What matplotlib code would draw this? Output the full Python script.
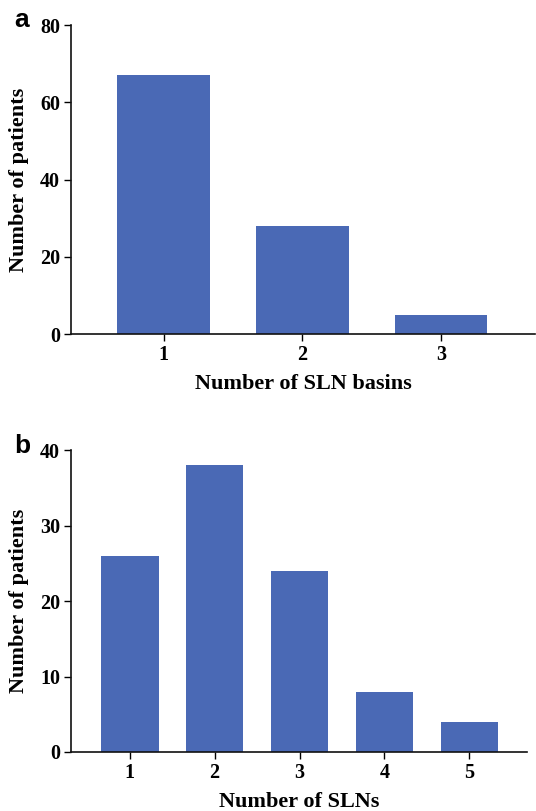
import matplotlib.pyplot as plt

# panel a: number of SLN basins
basins = [1, 2, 3]
basin_patients = [67, 28, 5]

# panel b: number of SLNs
slns = [1, 2, 3, 4, 5]
sln_patients = [26, 38, 24, 8, 4]

bar_color = "#4a69b5"

plt.rcParams["font.family"] = ["Liberation Serif", "DejaVu Serif"]
plt.rcParams["font.weight"] = "bold"

fig = plt.figure(figsize=(5.36, 8.11), dpi=100)
ax_a = fig.add_axes([0.1325, 0.588, 0.866, 0.381])
ax_b = fig.add_axes([0.1325, 0.0728, 0.851, 0.372])


def style(ax, xlabel):
    for side in ("top", "right"):
        ax.spines[side].set_visible(False)
    for side in ("left", "bottom"):
        ax.spines[side].set_linewidth(1.2)
        ax.spines[side].set_color("#111111")
    ax.tick_params(axis="both", direction="out", length=5, width=1,
                   labelsize=14.5, pad=3)
    for lab in ax.get_xticklabels() + ax.get_yticklabels():
        lab.set_fontweight("bold")
    ax.set_ylabel("Number of patients", fontsize=16, fontweight="bold",
                  va="center")
    ax.set_xlabel(xlabel, fontsize=16, fontweight="bold", va="center")
    w_px = ax.get_position().width * 536
    h_px = ax.get_position().height * 811
    ax.yaxis.set_label_coords(-52 / w_px, 0.5)
    ax.xaxis.set_label_coords(0.5, -50 / h_px)


ax_a.bar(basins, basin_patients, width=0.67, color=bar_color)
ax_a.set_xlim(0.33, 3.68)
ax_a.set_ylim(0, 80)
ax_a.set_yticks([0, 20, 40, 60, 80])
ax_a.set_xticks(basins)
style(ax_a, "Number of SLN basins")

ax_b.bar(slns, sln_patients, width=0.68, color=bar_color)
ax_b.set_xlim(0.31, 5.68)
ax_b.set_ylim(0, 40)
ax_b.set_yticks([0, 10, 20, 30, 40])
ax_b.set_xticks(slns)
style(ax_b, "Number of SLNs")

fig.text(21.5 / 536, 1 - 20 / 811, "a", fontsize=19, fontweight="bold",
         family=["Liberation Sans", "DejaVu Sans"], ha="center", va="center")
fig.text(22.5 / 536, 1 - 446 / 811, "b", fontsize=19, fontweight="bold",
         family=["Liberation Sans", "DejaVu Sans"], ha="center", va="center")

fig.savefig("out.png", dpi=100)
